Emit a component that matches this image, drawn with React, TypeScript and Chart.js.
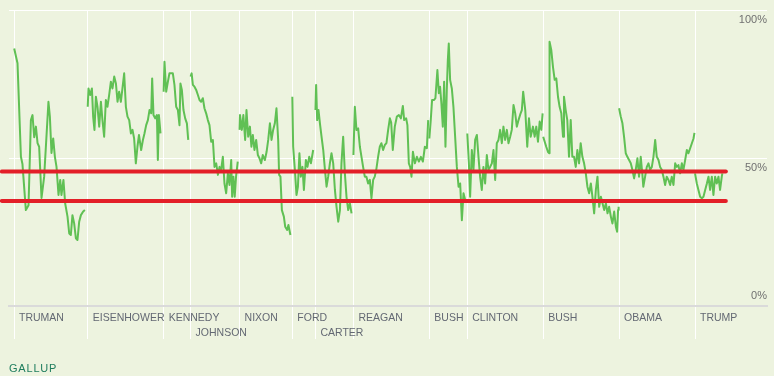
import React, { useEffect, useRef } from 'react';
import { Chart, registerables } from 'chart.js';

Chart.register(...registerables);

// ---- Axis / category data ----
const termStarts = [1945.28, 1953.05, 1961.05, 1963.89, 1969.05, 1974.61, 1977.05, 1981.05, 1989.05, 1993.05, 2001.05, 2009.05, 2017.05];
const presidentNames = ['TRUMAN', 'EISENHOWER', 'KENNEDY', 'JOHNSON', 'NIXON', 'FORD', 'CARTER', 'REAGAN', 'BUSH', 'CLINTON', 'BUSH', 'OBAMA', 'TRUMP'];
const labelOnSecondRow = [false, false, false, true, false, false, true, false, false, false, false, false, false];
const yTickValues = [0, 50, 100];
const xRange = [1944.753, 2024.636];
const redLineLevels = [45.4, 35.5];
const redLineSpan = [1944.0, 2020.3];

// ---- Approval series: [decimal year, approval %] ----
const truman: [number, number][] = [
  [1945.30, 87], [1945.65, 82], [1946.01, 50.4], [1946.17, 48], [1946.53, 32.4], [1946.81, 34], [1947.06, 62.8], [1947.23, 64.5],
  [1947.41, 57], [1947.59, 60.6], [1947.76, 55], [1947.93, 53.8], [1948.18, 36.5], [1948.46, 43.7], [1948.91, 69], [1949.06, 64],
  [1949.23, 51.7], [1949.41, 56.6], [1949.59, 50.4], [1949.76, 47], [1949.97, 37.5], [1950.15, 42.6], [1950.28, 37.5], [1950.49, 42.6],
  [1950.67, 34.7], [1950.92, 30.2], [1951.10, 24.5], [1951.27, 24], [1951.44, 30.7], [1951.62, 27.9], [1951.80, 22.9], [1951.97, 22.3],
  [1952.15, 28.5], [1952.33, 30.7], [1952.57, 31.9], [1952.75, 32.4],
];
const eisenhower: [number, number][] = [
  [1953.05, 67.3], [1953.13, 73.5], [1953.31, 71.3], [1953.49, 73.5], [1953.62, 64], [1953.76, 59.5], [1953.91, 70.7], [1954.08, 67.3],
  [1954.26, 60.6], [1954.44, 69], [1954.6, 62.8], [1954.78, 57.2], [1954.96, 69.6], [1955.13, 67.3], [1955.31, 71.3], [1955.49, 75.8],
  [1955.66, 73.5], [1955.84, 77.5], [1956.02, 75.2], [1956.19, 69], [1956.36, 72.4], [1956.54, 69], [1956.71, 73.5], [1956.89, 78.6],
  [1957.07, 67.3], [1957.24, 64], [1957.42, 62.8], [1957.6, 58.3], [1957.77, 59.5], [1957.94, 56.6], [1958.12, 48.2], [1958.29, 53.8],
  [1958.45, 57.8], [1958.68, 52.7], [1958.86, 56], [1959.03, 58.3], [1959.21, 61.1], [1959.39, 62.8], [1959.56, 66.2], [1959.74, 65.1],
  [1959.84, 76.9], [1959.98, 64.5], [1960.16, 63.4], [1960.34, 64.5], [1960.44, 49.3], [1960.55, 64.5], [1960.72, 58.3],
];
const kennedy: [number, number][] = [
  [1961.05, 72.4], [1961.14, 82.5], [1961.32, 72.4], [1961.5, 75.8], [1961.66, 78.6], [1962.02, 78.6], [1962.19, 74.7], [1962.37, 67.3],
  [1962.55, 66.2], [1962.72, 61.1], [1962.82, 75.2], [1962.97, 73], [1963.14, 66.2], [1963.32, 63.4], [1963.5, 61.7], [1963.64, 56.1],
];
const johnson: [number, number][] = [
  [1963.89, 77.5], [1964.0, 78.6], [1964.13, 74.7], [1964.3, 74.1], [1964.48, 73], [1964.66, 71.3], [1964.83, 69.6], [1965.0, 69],
  [1965.18, 70.2], [1965.35, 66.8], [1965.53, 65.1], [1965.71, 62.8], [1965.88, 61.1], [1966.06, 55.5], [1966.24, 56.1], [1966.41, 47],
  [1966.59, 48.2], [1966.77, 44.3], [1966.94, 47], [1967.11, 46], [1967.29, 50.4], [1967.46, 41.4], [1967.64, 38.1], [1967.82, 44.8],
  [1967.99, 40.9], [1968.17, 49.3], [1968.27, 36.9], [1968.4, 43.7], [1968.54, 36.9], [1968.68, 43.7], [1968.86, 48.8],
];
const nixon: [number, number][] = [
  [1969.05, 59.5], [1969.1, 64.5], [1969.29, 59.5], [1969.45, 64.5], [1969.64, 56.1], [1969.78, 66.2], [1969.96, 57.2], [1970.14, 60.6],
  [1970.3, 53.8], [1970.45, 57.8], [1970.62, 52.7], [1970.8, 56.1], [1970.98, 51], [1971.15, 49.9], [1971.33, 48.2], [1971.5, 51],
  [1971.72, 49.3], [1971.9, 52.1], [1972.07, 56.1], [1972.25, 61.7], [1972.42, 56.1], [1972.59, 59.5], [1972.77, 61.7], [1972.94, 66.8],
  [1973.12, 56.1], [1973.22, 44.3], [1973.36, 43.7], [1973.51, 32.4], [1973.72, 30.2], [1973.86, 26.8], [1974.07, 25.7], [1974.2, 27.4],
  [1974.41, 24],
];
const ford: [number, number][] = [
  [1974.61, 70.7], [1974.7, 53.8], [1974.88, 46], [1975.05, 37.5], [1975.2, 40.3], [1975.36, 51.6], [1975.51, 43.7], [1975.68, 47],
  [1975.83, 39.2], [1976.04, 49.3], [1976.21, 47], [1976.39, 50.4], [1976.57, 48.2], [1976.81, 52.7],
];
const carter: [number, number][] = [
  [1977.05, 66.2], [1977.12, 74.7], [1977.23, 62.8], [1977.37, 66.2], [1977.52, 61.7], [1977.69, 57.2], [1977.87, 52.7], [1978.05, 46],
  [1978.22, 40.3], [1978.39, 43.7], [1978.57, 48.2], [1978.74, 51.6], [1978.92, 48.2], [1979.1, 39.2], [1979.27, 33.5], [1979.45, 28.5],
  [1979.63, 32.4], [1979.79, 48.2], [1979.97, 57.2], [1980.15, 44.8], [1980.32, 36.9], [1980.5, 32.4], [1980.68, 34.7], [1980.85, 31.3],
];
const reagan: [number, number][] = [
  [1981.05, 51], [1981.2, 67.3], [1981.37, 59.5], [1981.55, 60], [1981.73, 53.8], [1981.9, 50.4], [1982.07, 47], [1982.25, 43.7],
  [1982.42, 43.7], [1982.6, 41.4], [1982.78, 42.6], [1982.95, 36.4], [1983.13, 42.6], [1983.3, 43.7], [1983.48, 46.5], [1983.65, 50.4],
  [1983.83, 53.8], [1984.0, 55], [1984.18, 52.7], [1984.36, 54.4], [1984.53, 55], [1984.71, 59.5], [1984.89, 63.4], [1985.03, 62],
  [1985.2, 52.7], [1985.41, 60.6], [1985.63, 64], [1985.84, 64.5], [1986.05, 63.4], [1986.26, 67.6], [1986.4, 62.8], [1986.61, 63.4],
  [1986.74, 61.1], [1986.89, 48.2], [1987.03, 47], [1987.17, 43.7], [1987.32, 52.1], [1987.53, 48.2], [1987.74, 50.4], [1987.95, 48.8],
  [1988.16, 50.4], [1988.37, 48.8], [1988.58, 53.8], [1988.79, 53.3], [1988.93, 62.8],
];
const bushSr: [number, number][] = [
  [1989.05, 56.6], [1989.2, 62.8], [1989.34, 69.6], [1989.55, 69.6], [1989.69, 70.2], [1989.9, 79.7], [1990.05, 71.9], [1990.18, 74.1],
  [1990.32, 68.5], [1990.47, 60.6], [1990.61, 75.8], [1990.75, 53.8], [1990.89, 73], [1991.0, 83.1], [1991.1, 88.7], [1991.24, 76.4],
  [1991.42, 73.5], [1991.59, 67.3], [1991.77, 57.2], [1991.95, 47], [1992.13, 40.3], [1992.3, 41.4], [1992.48, 29], [1992.65, 38.1],
  [1992.83, 35.8],
];
const clinton: [number, number][] = [
  [1993.05, 58.3], [1993.22, 48.2], [1993.35, 36.9], [1993.53, 52.7], [1993.7, 46], [1993.88, 56.1], [1994.06, 57.8], [1994.23, 50.4],
  [1994.4, 43.7], [1994.58, 39.2], [1994.75, 47], [1994.93, 41.4], [1995.11, 51], [1995.28, 46], [1995.46, 47], [1995.64, 48.2],
  [1995.81, 52.7], [1995.99, 42.6], [1996.16, 55], [1996.34, 56.1], [1996.51, 59.5], [1996.69, 55], [1996.86, 60.6], [1997.04, 56.1],
  [1997.22, 59.5], [1997.39, 55], [1997.57, 57.2], [1997.74, 59.5], [1997.92, 67.9], [1998.1, 65.1], [1998.27, 60.6], [1998.45, 62.8],
  [1998.67, 65.1], [1998.8, 66.2], [1998.94, 72.4], [1999.16, 66.2], [1999.37, 53.8], [1999.55, 63.4], [1999.73, 57.2], [1999.97, 60.6],
  [2000.15, 57.2], [2000.32, 60.6], [2000.5, 55.5], [2000.68, 62.3], [2000.85, 59.5], [2000.99, 65.1],
];
const bushJr: [number, number][] = [
  [2001.05, 57.2], [2001.37, 53.8], [2001.55, 52.1], [2001.67, 51.6], [2001.72, 89.3], [2001.9, 86.5], [2002.08, 80.8], [2002.26, 76.4],
  [2002.43, 76.9], [2002.61, 70.7], [2002.78, 67.3], [2002.96, 65.1], [2003.14, 57.2], [2003.24, 70.7], [2003.42, 66.2], [2003.59, 62.8],
  [2003.77, 50.4], [2003.95, 62.8], [2004.12, 50.4], [2004.3, 50.4], [2004.48, 47], [2004.65, 52.7], [2004.83, 48.2], [2005.0, 55],
  [2005.18, 50.4], [2005.36, 48.2], [2005.54, 44.8], [2005.71, 40.3], [2005.89, 38.1], [2006.07, 41.4], [2006.24, 36.9], [2006.42, 31.3],
  [2006.6, 39.2], [2006.77, 43.7], [2006.95, 33.5], [2007.13, 36.9], [2007.3, 34.7], [2007.48, 32.4], [2007.66, 34.7], [2007.83, 31.3],
  [2008.0, 33.5], [2008.18, 30.2], [2008.35, 27.9], [2008.53, 31.9], [2008.71, 26.8], [2008.84, 25.1], [2008.94, 32.4], [2009.0, 33.5],
];
const obama: [number, number][] = [
  [2009.05, 66.8], [2009.22, 64], [2009.4, 61.7], [2009.57, 57.2], [2009.75, 51.6], [2009.92, 50.4], [2010.1, 49.3], [2010.28, 48.2],
  [2010.45, 46], [2010.63, 43.1], [2010.8, 46], [2010.98, 49.9], [2011.15, 43.7], [2011.33, 50.4], [2011.5, 44.5], [2011.6, 40.3],
  [2011.79, 43.7], [2011.97, 47], [2012.14, 48.2], [2012.32, 46], [2012.5, 47], [2012.67, 50.4], [2012.85, 56.1], [2013.02, 50.4],
  [2013.2, 49.3], [2013.37, 47], [2013.55, 46], [2013.72, 43.7], [2013.9, 40.9], [2014.07, 43.7], [2014.25, 42.6], [2014.43, 40.9],
  [2014.6, 43.7], [2014.78, 40.9], [2014.96, 48.2], [2015.13, 47], [2015.3, 47.6], [2015.48, 44.8], [2015.66, 48.2], [2015.83, 46],
  [2016.01, 49.3], [2016.19, 52.7], [2016.36, 51.6], [2016.54, 53.3], [2016.72, 55], [2016.89, 56.6], [2016.99, 58.5],
];
const trump: [number, number][] = [
  [2017.05, 44.8], [2017.24, 41.4], [2017.41, 39.2], [2017.59, 36.9], [2017.77, 36.4], [2017.94, 36.9], [2018.12, 39.2], [2018.3, 41.4],
  [2018.47, 43.7], [2018.64, 39.2], [2018.82, 43.7], [2018.99, 37.5], [2019.17, 43.7], [2019.34, 41.4], [2019.52, 43.7], [2019.69, 39.2],
  [2019.87, 43.7], [2019.93, 44.8],
];

const presidencies = [truman, eisenhower, kennedy, johnson, nixon, ford, carter, reagan, bushSr, clinton, bushJr, obama, trump];

const BG = '#edf3df';
const GREEN = '#60c054';
const RED = '#e31f28';

export default function App() {
  const canvasRef = useRef<HTMLCanvasElement | null>(null);

  useEffect(() => {
    if (!canvasRef.current) return;
    const redSets = redLineLevels.map((lvl) => ({
      data: redLineSpan.map((x) => ({ x, y: lvl })),
      borderColor: RED,
      borderWidth: 4,
      borderCapStyle: 'round' as const,
      pointRadius: 0,
      clip: false as any,
      order: 0,
    }));
    const presSets = presidencies.map((series) => ({
      data: series.map(([x, y]) => ({ x, y })),
      borderColor: GREEN,
      borderWidth: 2,
      borderJoinStyle: 'round' as const,
      pointRadius: 0,
      tension: 0,
      order: 1,
    }));

    const chart = new Chart(canvasRef.current, {
      type: 'line',
      data: { datasets: [...redSets, ...presSets] as any },
      options: {
        animation: false,
        responsive: false,
        devicePixelRatio: 1,
        layout: { padding: { left: 9, right: 7, top: 10, bottom: 30 } },
        plugins: { legend: { display: false }, tooltip: { enabled: false }, title: { display: false } },
        scales: {
          x: {
            type: 'linear',
            position: 'bottom',
            min: xRange[0],
            max: xRange[1],
            bounds: 'data',
            afterBuildTicks: (scale: any) => {
              scale.ticks = termStarts.map((v) => ({ value: v }));
            },
            afterFit: (scale: any) => {
              scale.height = 40;
              scale.paddingLeft = 0;
              scale.paddingRight = 0;
            },
            ticks: {
              autoSkip: false,
              maxRotation: 0,
              minRotation: 0,
              align: 'start',
              labelOffset: 5,
              padding: -28,
              color: '#636873',
              font: { family: '"Liberation Sans", Arial, sans-serif', size: 10.5, lineHeight: '15px' },
              callback: (_v: any, i: number) => (labelOnSecondRow[i] ? ['', presidentNames[i]] : presidentNames[i]),
            },
            grid: { color: '#ffffff', lineWidth: 1, drawTicks: true, tickLength: 33, tickColor: '#ffffff' },
            border: { display: true, color: '#dadada', width: 2 },
          },
          y: {
            type: 'linear',
            position: 'right',
            min: yTickValues[0],
            max: yTickValues[yTickValues.length - 1],
            bounds: 'data',
            afterBuildTicks: (scale: any) => {
              scale.ticks = yTickValues.map((v) => ({ value: v }));
            },
            afterFit: (scale: any) => {
              scale.width = 0;
              scale.paddingTop = 0;
              scale.paddingBottom = 0;
            },
            ticks: {
              mirror: true,
              padding: 0,
              color: '#707070',
              font: { family: '"Liberation Sans", Arial, sans-serif', size: 11, lineHeight: '20px' },
              callback: (v: any) => (v === 0 ? [v + '%', ''] : ['', v + '%']),
            },
            grid: {
              color: (ctx: any) => (ctx.tick && ctx.tick.value === 0 ? 'rgba(0,0,0,0)' : '#ffffff'),
              lineWidth: 1,
              drawTicks: false,
            },
            border: { display: false },
          },
        },
      } as any,
    });
    return () => chart.destroy();
  }, []);

  return (
    <div style={{ position: 'fixed', left: 0, top: 0, width: 774, height: 376, background: BG, overflow: 'hidden' }}>
      <canvas ref={canvasRef} width={774} height={376} style={{ display: 'block', width: 774, height: 376 }} />
      <div
        style={{
          position: 'absolute',
          left: 9,
          top: 362,
          fontFamily: '"Liberation Sans", Arial, sans-serif',
          fontSize: 11,
          lineHeight: '13px',
          letterSpacing: '0.8px',
          color: '#1f7d5e',
        }}
      >
        GALLUP
      </div>
    </div>
  );
}
